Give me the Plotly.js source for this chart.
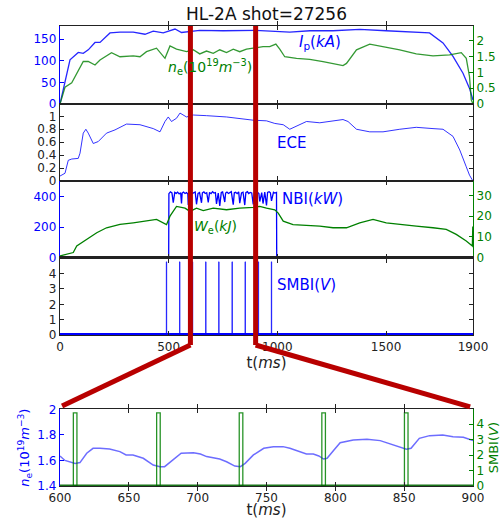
<!DOCTYPE html>
<html><head><meta charset="utf-8">
<script src="https://cdn.plot.ly/plotly-3.0.1.min.js"></script>
<style>body{margin:0;background:#fff}#c{width:502px;height:519px}</style>
</head><body><div id="c"></div>
<script>
// ---- data ----
const tIp = [0,46,84,107,130,161,184,230,276,337,391,429,475,529,559,643,750,900,1057,1150,1256,1379,1500,1600,1670,1700,1762,1808,1854,1884,1900];
const ip  = [0,102,119,117,125,142,142,164,166,166,161,168,164,173,165,170,169,170,166,169,169,172,169,167,166,164,141,110,71,36,9];

const tNe = [0,23,54,92,107,130,161,184,237,276,337,368,398,444,483,506,536,582,613,643,674,705,735,766,797,827,858,889,934,965,993,1011,1034,1088,1149,1210,1256,1302,1318,1364,1425,1486,1563,1639,1716,1792,1846,1869,1884,1892,1900];
const ne  = [0,0.53,0.67,1.18,1.34,1.34,1.23,1.39,1.62,1.49,1.52,1.49,1.65,1.76,1.44,1.83,1.73,1.65,1.71,1.58,1.67,1.60,1.71,1.62,1.73,1.65,1.73,1.76,1.81,1.81,1.89,1.73,1.49,1.44,1.41,1.34,1.28,1.21,1.28,1.71,1.89,1.81,1.71,1.58,1.52,1.55,1.62,1.44,0.86,0.13,0];

const tEce = [0,23,38,54,84,92,107,119,130,153,176,214,253,306,368,429,460,483,498,513,536,552,582,613,674,766,889,950,988,1027,1057,1088,1134,1195,1256,1302,1325,1364,1425,1486,1563,1639,1716,1762,1808,1839,1869,1884,1897];
const ece  = [0.077,0.12,0.32,0.34,0.35,0.43,0.74,0.80,0.74,0.58,0.61,0.74,0.79,0.88,0.87,0.81,0.76,0.92,0.99,0.92,0.97,1.05,0.99,1.02,1.01,0.99,0.94,0.93,0.89,0.87,0.80,0.85,0.92,0.90,0.93,0.95,0.92,0.80,0.76,0.76,0.80,0.83,0.81,0.80,0.69,0.48,0.22,0.09,0.015];

const tNbi = [0,500,501,508,515,521,528,535,541,548,555,559,562,568,575,582,588,590,595,602,608,615,622,628,635,642,651,655,662,668,675,682,688,695,702,708,715,720,728,735,742,748,758,762,768,775,782,788,797,802,808,815,822,827,835,842,850,855,862,868,875,882,889,895,902,908,915,919,928,934,942,950,955,962,968,973,982,988,996,997,1900];
const nbi  = [0,0,420,432,425,360,428,422,430,418,426,355,424,430,421,427,418,345,426,429,420,424,431,350,422,427,360,425,432,421,426,362,428,420,433,424,427,352,423,340,428,431,365,424,430,421,427,433,348,426,429,420,432,358,425,430,345,427,433,421,428,425,350,432,426,429,420,368,427,355,430,342,428,433,426,372,429,424,428,0,0];

const tWe = [0,31,61,77,123,169,214,276,337,398,444,490,506,536,575,598,628,659,705,766,827,889,919,950,988,1004,1027,1072,1134,1195,1256,1318,1379,1440,1501,1563,1639,1716,1777,1823,1869,1897,1899,1900];
const we  = [0.8,1.6,2.4,5.6,8.8,12,14.4,16,16.8,17.6,18.4,15.9,20,24.7,23.9,22.3,23.9,22.7,23.9,23.1,23.9,24.3,24.7,23.9,23.1,21.5,17.6,15.9,15.6,15.2,14.4,14.4,16.8,18.4,16.8,16,15.2,14.4,13.6,11.2,8,5.6,15,5];

const smbiTimes = [490,551,610,671,731,792,852,913,973];
const smbiAmp   = [4.77,4.77,4.77,4.77,4.77,4.77,4.77,4.77,4.77];
const smbiBaseT = [0,1900];
const smbiBase  = [0.06,0.06];

const tZoom  = [600,603.6,611,614.5,619.4,624,629,636,643.5,648,653,660.5,667.7,672.6,676,682,688,697,702,706.5,712.7,716,721,727,731,734.5,740.5,748,755,762,767,774.5,779,784,788,791.5,794,799,803.5,813,823,832.6,840,845,849,851.6,855,861,868.5,878,885.5,893,900];
const neZoom = [1.635,1.60,1.577,1.583,1.656,1.695,1.695,1.69,1.669,1.643,1.643,1.617,1.564,1.551,1.551,1.603,1.656,1.661,1.65,1.63,1.617,1.611,1.59,1.556,1.551,1.577,1.643,1.695,1.708,1.708,1.695,1.669,1.65,1.65,1.635,1.611,1.617,1.682,1.739,1.76,1.765,1.755,1.729,1.708,1.695,1.687,1.695,1.773,1.794,1.799,1.786,1.781,1.755];
const zoomPulseT   = [611,671.5,731.5,791.5,851.5];
const zoomPulseAmp = [4.72,4.72,4.72,4.72,4.72];
const zoomBaseT = [600,900];
const zoomBase  = [0.03,0.03];

const zoomStart = 600, zoomEnd = 900, tMax = 1900;

// ---- styles ----
const BLUE = '#0000ff', GREEN = '#008000', FRAME = '#222222', RED = '#b80000';
const TF = 12;

const traces = [
  {x:tIp, y:ip, xaxis:'x', yaxis:'y', mode:'lines', line:{color:'rgba(0,0,255,0.85)', width:1.3}},
  {x:tNe, y:ne, xaxis:'x', yaxis:'y6', mode:'lines', line:{color:'rgba(0,128,0,0.8)', width:1.3}},
  {x:tEce, y:ece, xaxis:'x2', yaxis:'y2', mode:'lines', line:{color:'rgba(0,0,255,0.8)', width:1}},
  {x:tNbi, y:nbi, xaxis:'x3', yaxis:'y3', mode:'lines', line:{color:BLUE, width:1.3}},
  {x:tWe, y:we, xaxis:'x3', yaxis:'y7', mode:'lines', line:{color:GREEN, width:1.3}},
  {x:smbiBaseT, y:smbiBase, xaxis:'x4', yaxis:'y4', mode:'lines', line:{color:BLUE, width:2}},
  {x:smbiTimes, y:smbiAmp, type:'bar', width:2, xaxis:'x4', yaxis:'y4', marker:{color:BLUE, line:{color:BLUE, width:0.6}}},
  {x:tZoom, y:neZoom, xaxis:'x5', yaxis:'y5', mode:'lines', line:{color:'rgba(60,60,255,0.75)', width:1.5}},
  {x:zoomBaseT, y:zoomBase, xaxis:'x5', yaxis:'y8', mode:'lines', line:{color:'rgba(0,100,0,0.9)', width:2}},
  {x:zoomPulseT, y:zoomPulseAmp, type:'bar', width:2.6, xaxis:'x5', yaxis:'y8', marker:{color:'rgba(0,0,0,0)', line:{color:'rgba(0,128,0,0.85)', width:1.3}}}
];

function xa(anchor, labels, extra){
  return Object.assign({domain:[0,1], anchor:anchor, range:[0,tMax], tickvals:[0,500,1000,1500,1900],
    showticklabels:labels, ticks:'inside', ticklen:4, tickcolor:FRAME, mirror:'allticks', showline:true,
    linecolor:FRAME, linewidth:1.2, showgrid:false, zeroline:false, tickfont:{size:TF, color:'#222'}}, extra||{});
}
function ya(dom, range, vals, color, extra){
  return Object.assign({domain:dom, anchor:'x', range:range, tickvals:vals, ticks:'inside', ticklen:4,
    tickcolor:color, showline:true, linecolor:color, linewidth:1.2, showgrid:false, zeroline:false,
    tickfont:{size:TF, color:color}}, extra||{});
}

const D1=[0.8304,1], D2=[0.663,0.8304], D3=[0.4967,0.663], D4=[0.3283,0.4967], D5=[0,0.1667];

const layout = {
  width:502, height:519, margin:{l:60, r:29, t:26, b:33},
  paper_bgcolor:'#fff', plot_bgcolor:'#fff', showlegend:false,
  font:{family:'DejaVu Sans', size:TF, color:'#222'},
  title:{text:'HL-2A shot=27256', font:{size:17, color:'#111'}, xref:'paper', x:0.5, xanchor:'center', yref:'container', y:0.972, yanchor:'middle'},
  xaxis: xa('y', false),
  xaxis2: xa('y2', false, {matches:'x'}),
  xaxis3: xa('y3', false, {matches:'x'}),
  xaxis4: xa('y4', true, {matches:'x', title:{text:'t(<i>ms</i>)', font:{size:15}, standoff:2}}),
  xaxis5: xa('y5', true, {range:[zoomStart,zoomEnd], tickvals:[600,650,700,750,800,850,900], title:{text:'t(<i>ms</i>)', font:{size:15}, standoff:1}}),
  yaxis: ya(D1, [0,180], [0,50,100,150], BLUE, {anchor:'x'}),
  yaxis6: ya(D1, [0,2.46], [0,0.5,1,1.5,2], GREEN, {overlaying:'y', side:'right', anchor:'x', ticktext:['0','0.5','1','1.5','2']}),
  yaxis2: ya(D2, [0,1.19], [0,0.2,0.4,0.6,0.8,1], FRAME, {anchor:'x2', mirror:'allticks', ticktext:['0','0.2','0.4','0.6','0.8','1'], tickfont:{size:TF, color:'#222'}}),
  yaxis3: ya(D3, [0,503], [0,200,400], BLUE, {anchor:'x3'}),
  yaxis7: ya(D3, [0,37], [0,10,20,30], GREEN, {overlaying:'y3', side:'right', anchor:'x3'}),
  yaxis4: ya(D4, [0,5.05], [0,1,2,3,4], FRAME, {anchor:'x4', mirror:'allticks', tickfont:{size:TF, color:'#222'}}),
  yaxis5: ya(D5, [1.4,2.0], [1.4,1.6,1.8,2], BLUE, {anchor:'x5', ticktext:['1.4','1.6','1.8','2'],
     title:{text:'<i>n</i><sub>e</sub>(10<sup>19</sup><i>m</i><sup>−3</sup>)', font:{size:13, color:BLUE}, standoff:4}}),
  yaxis8: ya(D5, [0,4.95], [0,1,2,3,4], GREEN, {overlaying:'y5', side:'right', anchor:'x5',
     title:{text:'SMBI(<i>V</i>)', font:{size:13, color:GREEN}, standoff:5}}),
  annotations:[
    {xref:'x', yref:'y', x:1196, y:141, text:'<i>I</i><sub>p</sub>(<i>kA</i>)', showarrow:false, font:{size:15, color:BLUE}},
    {xref:'x', yref:'y', x:688, y:86, text:'<i>n</i><sub>e</sub>(10<sup>19</sup><i>m</i><sup>−3</sup>)', showarrow:false, font:{size:14, color:GREEN}},
    {xref:'x2', yref:'y2', x:1067, y:0.58, text:'ECE', showarrow:false, font:{size:15, color:BLUE}},
    {xref:'x3', yref:'y3', x:1163, y:385, text:'NBI(<i>kW</i>)', showarrow:false, font:{size:15, color:BLUE}},
    {xref:'x3', yref:'y3', x:717, y:202, text:'<i>W</i><sub>e</sub>(<i>kJ</i>)', showarrow:false, font:{size:14, color:GREEN}},
    {xref:'x4', yref:'y4', x:1135, y:3.28, text:'SMBI(<i>V</i>)', showarrow:false, font:{size:15, color:BLUE}}
  ],
  shapes:[
    {type:'line', xref:'x', yref:'paper', x0:zoomStart, x1:zoomStart, y0:1, y1:0.3065, line:{color:RED, width:5}, layer:'above'},
    {type:'line', xref:'x', yref:'paper', x0:zoomEnd, x1:zoomEnd, y0:1, y1:0.3065, line:{color:RED, width:5}, layer:'above'},
    {type:'line', xref:'paper', yref:'paper', x0:zoomStart/tMax, y0:0.3065, x1:0.005, y1:0.174, line:{color:RED, width:5}, layer:'above'},
    {type:'line', xref:'paper', yref:'paper', x0:zoomEnd/tMax, y0:0.3065, x1:0.993, y1:0.172, line:{color:RED, width:5}, layer:'above'}
  ],
  bargap:0
};
Plotly.newPlot('c', traces, layout, {displayModeBar:false, staticPlot:true});
</script></body></html>
